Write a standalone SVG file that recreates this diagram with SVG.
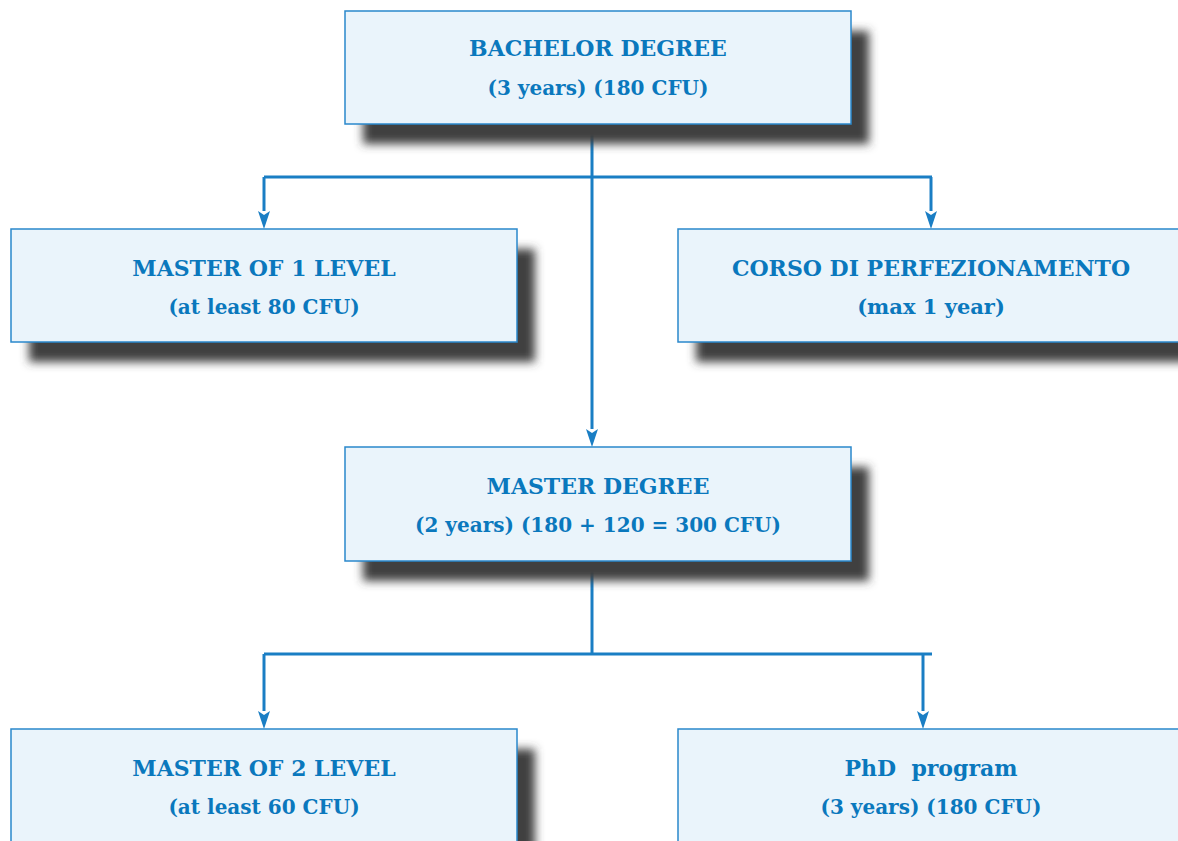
<svg xmlns="http://www.w3.org/2000/svg" width="1178" height="841" viewBox="0 0 1178 841">
<style>
.box{fill:#eaf4fb;stroke:#2a88cc;stroke-width:1.5}
.sh{fill:#404040;filter:url(#blur)}
.t{font-family:"DejaVu Serif","Liberation Serif",serif;font-weight:bold;font-size:22px;fill:#0a78bd;text-anchor:middle}
.s{font-size:20px}
.c{fill:none;stroke:#1a7ec4;stroke-width:3}
.ah{fill:#1a7ec4}
</style>
<defs>
<filter id="blur" x="-10%" y="-30%" width="120%" height="160%"><feGaussianBlur stdDeviation="5"/></filter>
</defs>
<rect width="1178" height="841" fill="#ffffff"/>
<g id="connectors">
<path class="c" d="M592,124 V429"/>
<path class="ah" d="M586,429 L592,433 L598,429 L592,447 Z"/>
<path class="c" d="M264,177 H932"/>
<path class="c" d="M264,177 V211"/>
<path class="ah" d="M258,211 L264,215 L270,211 L264,229 Z"/>
<path class="c" d="M931,177 V211"/>
<path class="ah" d="M925,211 L931,215 L937,211 L931,229 Z"/>
<path class="c" d="M592,561 V654"/>
<path class="c" d="M264,654 H932"/>
<path class="c" d="M264,654 V711"/>
<path class="ah" d="M258,711 L264,715 L270,711 L264,729 Z"/>
<path class="c" d="M923,654 V711"/>
<path class="ah" d="M917,711 L923,715 L929,711 L923,729 Z"/>
</g>
<g id="bachelor">
<rect class="sh" x="363" y="31" width="506" height="113"/>
<rect class="box" x="345" y="11" width="506" height="113"/>
<text class="t" x="598" y="56">BACHELOR DEGREE</text>
<text class="t s" x="598" y="95">(3 years) (180 CFU)</text>
</g>
<g id="master1">
<rect class="sh" x="29" y="249" width="506" height="113"/>
<rect class="box" x="11" y="229" width="506" height="113"/>
<text class="t" x="264" y="276">MASTER OF 1 LEVEL</text>
<text class="t s" x="264" y="314">(at least 80 CFU)</text>
</g>
<g id="corso">
<rect class="sh" x="696" y="249" width="506" height="113"/>
<rect class="box" x="678" y="229" width="506" height="113"/>
<text class="t" x="931" y="276">CORSO DI PERFEZIONAMENTO</text>
<text class="t" x="931" y="314" style="font-size:21px">(max 1 year)</text>
</g>
<g id="masterdegree">
<rect class="sh" x="363" y="467" width="506" height="114"/>
<rect class="box" x="345" y="447" width="506" height="114"/>
<text class="t" x="598" y="494">MASTER DEGREE</text>
<text class="t s" x="598" y="532">(2 years) (180 + 120 = 300 CFU)</text>
</g>
<g id="master2">
<rect class="sh" x="29" y="749" width="506" height="113"/>
<rect class="box" x="11" y="729" width="506" height="113"/>
<text class="t" x="264" y="776">MASTER OF 2 LEVEL</text>
<text class="t s" x="264" y="814">(at least 60 CFU)</text>
</g>
<g id="phd">
<rect class="sh" x="696" y="749" width="506" height="113"/>
<rect class="box" x="678" y="729" width="506" height="113"/>
<text class="t" x="931" y="776" xml:space="preserve">PhD  program</text>
<text class="t s" x="931" y="814">(3 years) (180 CFU)</text>
</g>
</svg>
